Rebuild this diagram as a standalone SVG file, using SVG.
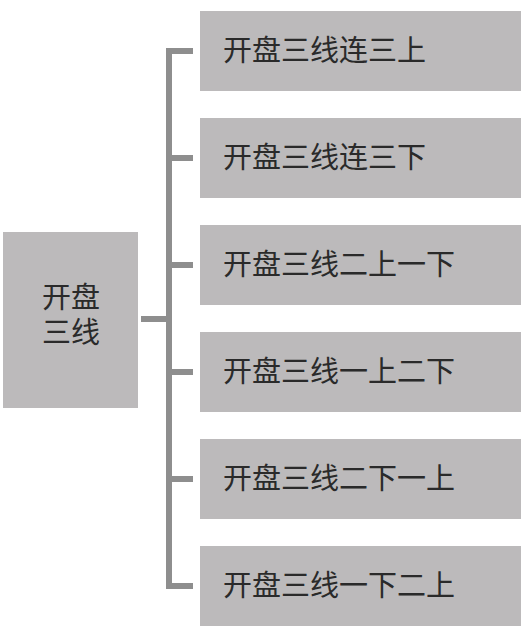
<svg xmlns="http://www.w3.org/2000/svg" width="526" height="630" viewBox="0 0 526 630">
<style>
.box{fill:#bcbabb}
.t{font-family:"Liberation Serif","Noto Sans CJK SC",serif;font-size:29px;fill:#2a2a2a;dominant-baseline:central}
.c{stroke:#8e8e8e;stroke-width:6;fill:none}
</style>
<rect width="526" height="630" fill="#ffffff"/>
<g id="connectors">
<path class="c" d="M193 51 H169 V586 H193"/>
<path class="c" d="M169 158 H193 M169 265 H193 M169 372 H193 M169 479 H193"/>
<path class="c" d="M141 319 H169"/>
</g>
<g id="root">
<rect class="box" x="3" y="232" width="135" height="176"/>
<text class="t" x="71" y="298" text-anchor="middle">开盘</text>
<text class="t" x="71" y="333" text-anchor="middle">三线</text>
</g>
<g id="n1"><rect class="box" x="200" y="11" width="321" height="80"/><text class="t" x="223" y="51">开盘三线连三上</text></g>
<g id="n2"><rect class="box" x="200" y="118" width="321" height="80"/><text class="t" x="223" y="158">开盘三线连三下</text></g>
<g id="n3"><rect class="box" x="200" y="225" width="321" height="80"/><text class="t" x="223" y="265">开盘三线二上一下</text></g>
<g id="n4"><rect class="box" x="200" y="332" width="321" height="80"/><text class="t" x="223" y="372">开盘三线一上二下</text></g>
<g id="n5"><rect class="box" x="200" y="439" width="321" height="80"/><text class="t" x="223" y="479">开盘三线二下一上</text></g>
<g id="n6"><rect class="box" x="200" y="546" width="321" height="80"/><text class="t" x="223" y="586">开盘三线一下二上</text></g>
</svg>
